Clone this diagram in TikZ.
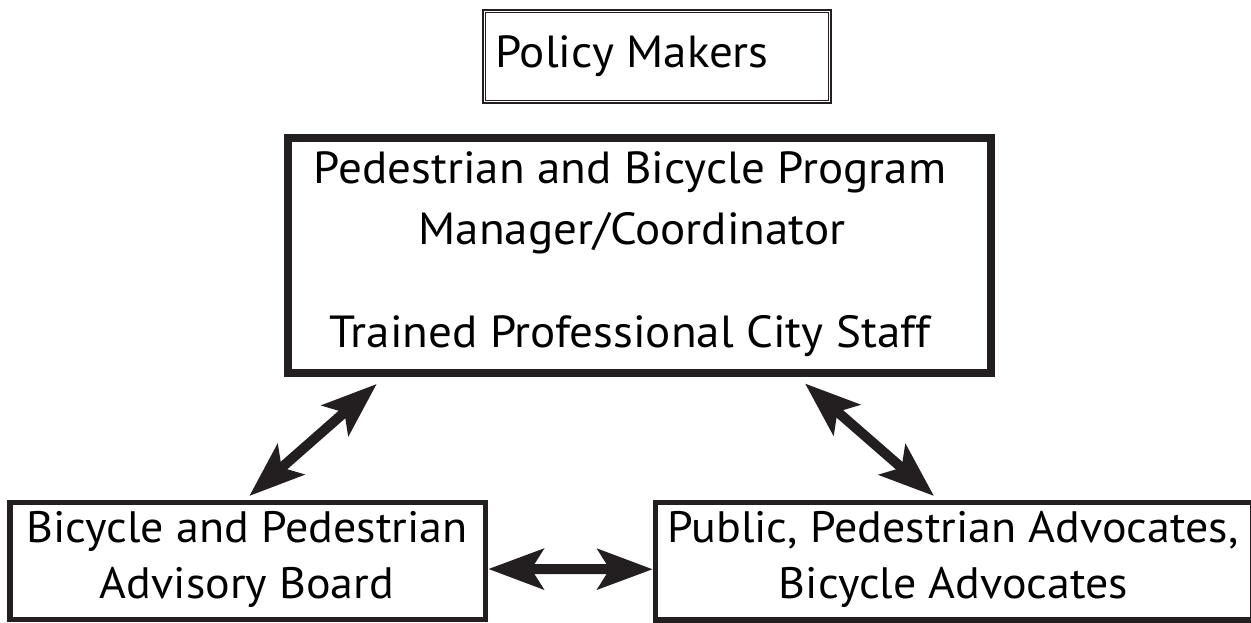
\documentclass[tikz,border=0pt]{standalone}
\usepackage{fontspec}
\setmainfont[FakeStretch=1.045]{PT Sans}
\usetikzlibrary{arrows.meta,calc}
\definecolor{ink}{HTML}{231F20}
\begin{document}
\begin{tikzpicture}[x=1pt,y=-1pt,
  box/.style={draw=ink, rectangle, inner sep=0pt, anchor=center},
  bigtxt/.style={font=\fontsize{45}{54}\selectfont, anchor=base, inner sep=0pt, text=black},
  smalltxt/.style={font=\fontsize{44}{52}\selectfont, anchor=base, inner sep=0pt, text=black},
  twoway/.style={draw=ink, line width=10pt,
    {Stealth[length=55pt,width=40pt,inset=12pt]}-{Stealth[length=55pt,width=40pt,inset=12pt]}}
]
\useasboundingbox (0,0) rectangle (1251,623);
% boxes
\node[box, line width=2pt, minimum width=348pt, minimum height=93pt] (pm) at (656.5,56.25) {};
\draw[ink, line width=1pt] ($(pm.north west)+(3.5,3.5)$) rectangle ($(pm.south east)+(-3.5,-3.5)$);
\node[box, line width=8pt, minimum width=703pt, minimum height=235pt] (main) at (639,255.5) {};
\node[box, line width=5.5pt, minimum width=475.5pt, minimum height=117pt] (bab) at (247.75,561) {};
\node[box, line width=5.5pt, minimum width=597.5pt, minimum height=117.5pt] (pub) at (954.25,561.25) {};
% texts
\node[bigtxt] (pmt) at (632,68) {Policy Makers};
\node[bigtxt] (m1) at (630,184) {Pedestrian and Bicycle Program};
\node[bigtxt] (m2) at (632,244) {Manager/Coordinator};
\node[bigtxt] (m3) at (630,347) {Trained Professional City Staff};
\node[smalltxt] (b1) at (247,542) {Bicycle and Pedestrian};
\node[smalltxt] (b2) at (247,598.5) {Advisory Board};
\node[smalltxt] (p1) at (953,542) {Public, Pedestrian Advocates,};
\node[smalltxt] (p2) at (953.5,598.5) {Bicycle Advocates};
% arrow ends
\coordinate (la) at (376.7,384);
\coordinate (lb) at (249.3,496);
\coordinate (ra) at (805,383.5);
\coordinate (rb) at (934,496);
\draw[twoway] (la) -- (lb);
\draw[twoway] (ra) -- (rb);
\draw[twoway] ([yshift=-8pt]bab.east) -- ([yshift=-8pt]pub.west);
\end{tikzpicture}
\end{document}
